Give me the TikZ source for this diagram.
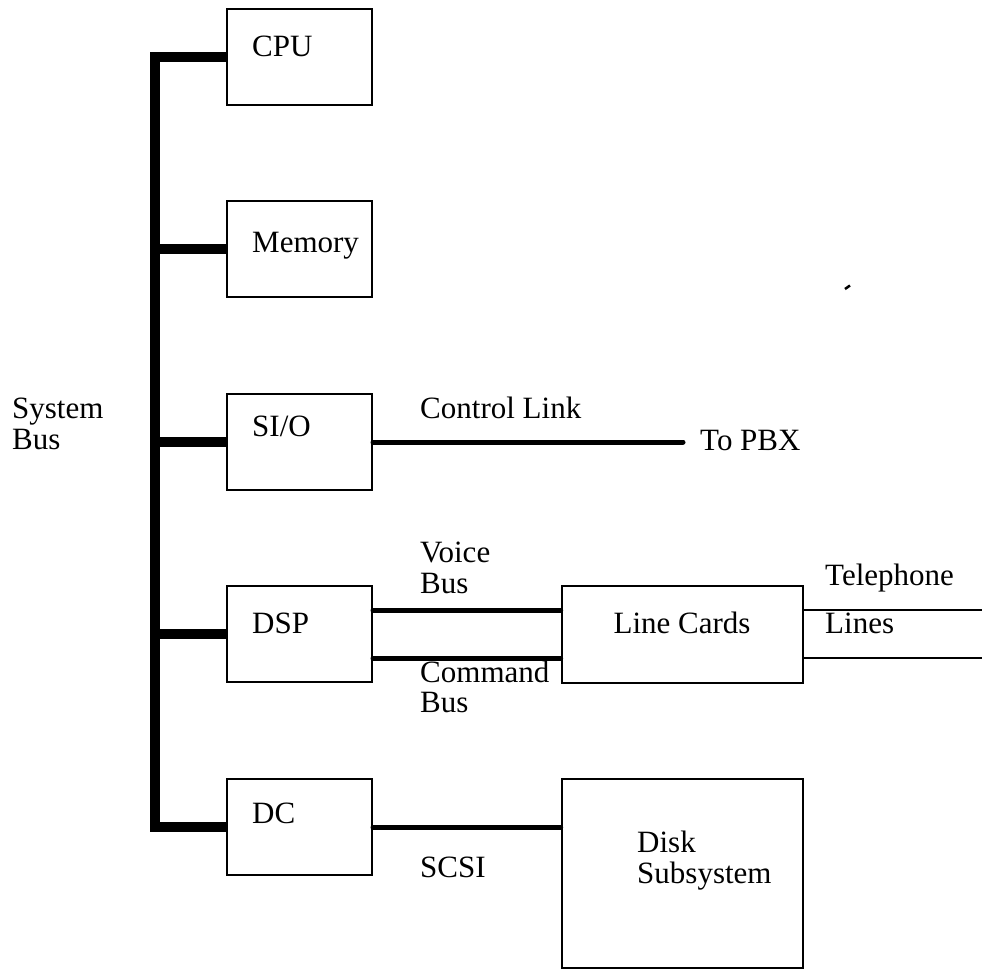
\documentclass[tikz,border=0pt]{standalone}
\usepackage{fontspec}
\setmainfont{Liberation Serif}
\usetikzlibrary{calc}
\tikzset{
  unit/.style={draw, line width=2pt, minimum width=145pt, minimum height=96pt, inner sep=0pt},
  bigunit/.style={draw, line width=2.6pt, minimum width=241pt, inner sep=0pt},
  txt/.style={anchor=base west, inner sep=0pt, font=\fontsize{31}{31}\selectfont},
  sysbus/.style={line width=10.5pt, line join=miter, line cap=butt},
  link/.style={line width=5pt, line cap=round},
  wire/.style={line width=2pt}
}
\begin{document}
\begin{tikzpicture}[x=1pt,y=-1pt]
\useasboundingbox (0,0) rectangle (982,971);

% units hanging off the system bus
\node[unit] (cpu) at (299.5,57) {};
\node[unit] (mem) at (299.5,249) {};
\node[unit] (sio) at (299.5,442) {};
\node[unit] (dsp) at (299.5,634) {};
\node[unit] (dc)  at (299.5,827) {};

% peripheral subsystems
\node[bigunit, minimum height=97pt] (lc) at (682.5,634.5) {};
\node[bigunit, minimum height=189pt] (disk) at (682.5,873.5) {};

% unit names
\node[txt] at (252,57) {CPU};
\node[txt] at (252,252) {Memory};
\node[txt] at (252,436) {SI/O};
\node[txt] at (252,633) {DSP};
\node[txt] at (252,823) {DC};
\node[anchor=base, inner sep=0pt, font=\fontsize{31}{31}\selectfont] at (682,633) {Line Cards};
\node[txt] at (637,852) {Disk};
\node[txt] at (637,883) {Subsystem};

% system bus
\draw[sysbus] (cpu.west) -- (155,57) -- (155,827) -- (dc.west);
\draw[sysbus] (155,249) -- (mem.west);
\draw[sysbus] (155,442) -- (sio.west);
\draw[sysbus] (155,634) -- (dsp.west);
\node[txt] at (12,418) {System};
\node[txt] at (12,449) {Bus};

% control link to the PBX
\coordinate (pbx) at (683,442);
\draw[link] (sio.east) -- (pbx);
\node[txt] at (420,418) {Control Link};
\node[txt] at (700,450) {To PBX};

% voice and command buses
\draw[link] ($(dsp.east)+(0,-24)$) -- ($(lc.west)+(0,-24.5)$);
\draw[link] ($(dsp.east)+(0,24)$) -- ($(lc.west)+(0,23.5)$);
\node[txt] at (420,562) {Voice};
\node[txt] at (420,593) {Bus};
\node[txt] at (420,682) {Command};
\node[txt] at (420,712) {Bus};

% SCSI
\draw[link] (dc.east) -- (dc.east -| disk.west);
\node[txt] at (420,877) {SCSI};

% telephone lines
\coordinate (tl1) at (982,610);
\coordinate (tl2) at (982,658);
\draw[wire] (lc.east |- tl1) -- (tl1);
\draw[wire] (lc.east |- tl2) -- (tl2);
\node[txt] at (825,585) {Telephone};
\node[txt] at (825,633) {Lines};

% small stray stroke
\draw[line width=2.5pt] (845,289) -- (850,285.5);
\end{tikzpicture}
\end{document}
